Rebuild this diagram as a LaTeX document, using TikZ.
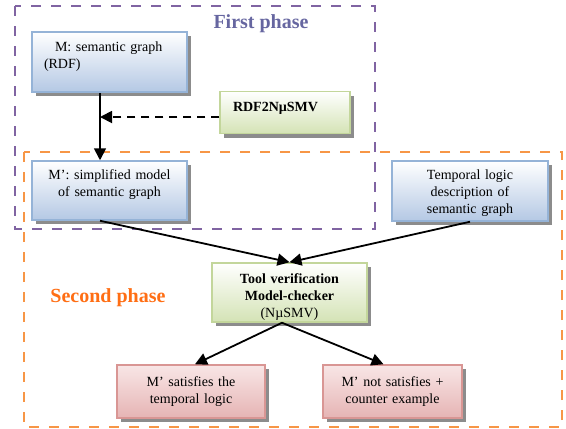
\documentclass[tikz,border=0pt]{standalone}
\usepackage{fontspec}
\setmainfont{Liberation Serif}
\usetikzlibrary{arrows.meta,shadows,calc}
\definecolor{phaseonec}{RGB}{128,100,162}
\definecolor{phasetwoc}{RGB}{247,150,70}
\definecolor{firsttxt}{RGB}{102,102,160}
\definecolor{secondtxt}{RGB}{255,110,20}
\definecolor{blueline}{RGB}{149,179,215}
\definecolor{bluefill}{RGB}{180,200,228}
\definecolor{greenline}{RGB}{195,214,155}
\definecolor{greenfill}{RGB}{212,227,181}
\definecolor{redline}{RGB}{217,150,148}
\definecolor{redfill}{RGB}{230,180,180}
\definecolor{redtop}{RGB}{248,230,230}

\begin{document}
\begin{tikzpicture}[x=1pt,y=-1pt,
    boxbase/.style={draw, line width=1.5pt, inner xsep=8pt, inner ysep=0pt, align=center,
      font=\fontsize{14}{17}\selectfont,
      drop shadow={shadow xshift=4pt, shadow yshift=-4pt, fill=black!45, opacity=1}},
    bluebox/.style={boxbase, draw=blueline, top color=white, bottom color=bluefill},
    greenbox/.style={boxbase, draw=greenline, top color=white, bottom color=greenfill},
    redbox/.style={boxbase, draw=redline, top color=redtop, bottom color=redfill},
    phase/.style={line width=2.5pt, dash pattern=on 10pt off 10pt},
    phasetitle/.style={font=\fontsize{20}{24}\selectfont\bfseries},
    arr/.style={line width=1.8pt, -{Triangle[length=12pt,width=12pt]}}]
  \useasboundingbox (0,0) rectangle (566,429);
  \draw[phase, phaseonec] (15,6) rectangle (375,229);
  \draw[phase, phasetwoc] (24,152) rectangle (562,427);
  \node[phasetitle, text=firsttxt] (first) at (261,24) {First phase};
  \node[phasetitle, text=secondtxt] (second) at (108,298) {Second phase};

  \node[bluebox, text width=139pt, text height=19.5pt, text depth=40.5pt, align=left] (m) at (109.5,62)
    {\hspace*{15pt}M: semantic graph\\\hspace*{4pt}(RDF)};
  \node[greenbox, text width=114pt, text height=20pt, text depth=22pt, align=left,
    font=\fontsize{14}{17}\selectfont\bfseries] (rdf) at (285,112.5) {\hspace*{5pt}RDF2NµSMV};
  \node[bluebox, text width=139pt, text height=18.5pt, text depth=40.5pt] (mp) at (109.5,190.5)
    {M’: simplified model\\of semantic graph};
  \node[bluebox, text width=140pt, text height=18.5pt, text depth=41.5pt] (tl) at (470,191)
    {Temporal logic\\description of\\semantic graph};
  \node[greenbox, text width=139pt, text height=20pt, text depth=39pt] (tool) at (289.5,292.5)
    {\textbf{Tool verification}\\\textbf{Model-checker}\\(NµSMV)};
  \node[redbox, text width=132pt, text height=21.5pt, text depth=31.5pt] (sat) at (191,391.5)
    {M’ satisfies the\\temporal logic};
  \node[redbox, text width=123pt, text height=21.5pt, text depth=31.5pt] (nots) at (392.5,391.5)
    {M’ not satisfies +\\counter example};

  \coordinate (join) at (100,117);
  \coordinate (fork) at ($(tool.south)+(-7.5,0)$);
  \draw[arr] (m.south -| join) -- (mp.north -| join);
  \draw[arr, dash pattern=on 8pt off 6pt] (rdf.west |- join) -- (join);
  \draw[arr] (mp.south -| join) -- (tool.north);
  \draw[arr] (tl.south) -- (tool.north);
  \draw[arr] (fork) -- ($(sat.north)+(4,0)$);
  \draw[arr] (fork) -- ($(nots.north)+(-9,0)$);
\end{tikzpicture}
\end{document}
